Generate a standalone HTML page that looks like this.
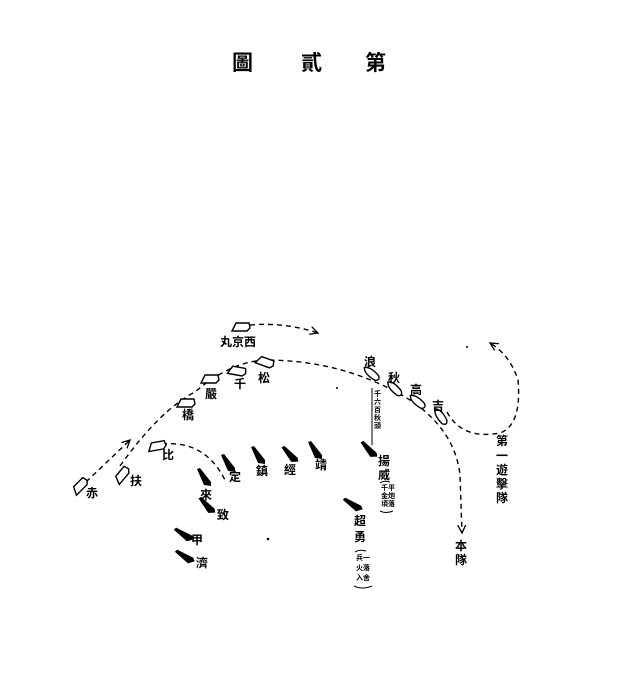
<!DOCTYPE html>
<html><head><meta charset="utf-8"><style>
html,body{margin:0;padding:0;background:#fff;}
svg{display:block;}
text{font-family:"Liberation Sans","Noto Sans CJK SC","Noto Sans CJK TC",sans-serif;font-weight:bold;fill:#000;}
</style></head><body>
<svg width="620" height="674" viewBox="0 0 620 674" xmlns="http://www.w3.org/2000/svg">
<defs>
<path id="w" d="M-9,4 L-5,-4 L8,-4 L9,1 L6,4 Z" fill="#fff" stroke="#000" stroke-width="1.4"/>
<path id="o" d="M-10,0 Q-6,-5 6,-3 Q11,0 6,3 Q-6,5 -10,0 Z" fill="#fff" stroke="#000" stroke-width="1.4"/>
<path id="b" d="M-7,-9 L-4,-10 L7,4 L7,8 L0,7 Z" fill="#000"/>
<marker id="ar" markerWidth="10" markerHeight="10" refX="8" refY="5" orient="auto" markerUnits="userSpaceOnUse"><path d="M0,1 L8,5 L0,9" fill="none" stroke="#000" stroke-width="1.3"/></marker>
</defs>
<text x="232" y="70" font-size="21">圖</text>
<text x="301" y="70" font-size="21">貳</text>
<text x="365" y="70" font-size="21">第</text>

<g fill="none" stroke="#000" stroke-width="1.4" stroke-dasharray="5,4">
<path d="M250,325 Q285,322 318,333" marker-end="url(#ar)"/>
<path d="M86,482 L130,440" marker-end="url(#ar)"/>
<path d="M120,466 Q160,410 195,392 Q230,362 265,360 Q345,360 410,400 Q455,430 460,475 L462,533" marker-end="url(#ar)"/>
<path d="M162,444 Q205,440 225,480"/>
<path d="M447,412 Q462,440 500,433 Q522,425 518,380 Q510,355 490,343" marker-end="url(#ar)"/>
</g>
<line x1="372" y1="388" x2="372" y2="445" stroke="#000" stroke-width="1"/>

<use href="#w" transform="translate(241,327)"/>
<use href="#w" transform="translate(265,362) rotate(20)"/>
<use href="#w" transform="translate(237,371) rotate(10)"/>
<use href="#w" transform="translate(210,379)"/>
<use href="#w" transform="translate(186,403)"/>
<use href="#w" transform="translate(157,446) rotate(-10)"/>
<use href="#w" transform="translate(122,475) rotate(-50)"/>
<use href="#w" transform="translate(80,486) rotate(-45)"/>
<use href="#o" transform="translate(372,374) rotate(40)"/>
<use href="#o" transform="translate(395,389) rotate(45)"/>
<use href="#o" transform="translate(418,402) rotate(40)"/>
<use href="#o" transform="translate(441,417) rotate(55)"/>

<use href="#b" transform="translate(228,464)"/>
<use href="#b" transform="translate(258,456)"/>
<use href="#b" transform="translate(290,455) rotate(-10)"/>
<use href="#b" transform="translate(315,451)"/>
<use href="#b" transform="translate(204,478)"/>
<use href="#b" transform="translate(207,506) rotate(-10)"/>
<use href="#b" transform="translate(184,535) rotate(-25)"/>
<use href="#b" transform="translate(185,557) rotate(-25)"/>
<use href="#b" transform="translate(369,450) rotate(-10)"/>
<use href="#b" transform="translate(353,505) rotate(-25)"/>

<g font-size="12">
<text x="220" y="346">丸京西</text>
<text x="258" y="382">松</text>
<text x="234" y="388">千</text>
<text x="205" y="398">嚴</text>
<text x="182" y="419">橋</text>
<text x="162" y="459">比</text>
<text x="130" y="485">扶</text>
<text x="86" y="497">赤</text>
<text x="229" y="481">定</text>
<text x="256" y="475">鎮</text>
<text x="284" y="474">經</text>
<text x="315" y="469">靖</text>
<text x="200" y="499">來</text>
<text x="217" y="519">致</text>
<text x="191" y="544">甲</text>
<text x="196" y="567">濟</text>
<text x="364" y="366">浪</text>
<text x="388" y="382">秋</text>
<text x="410" y="394">高</text>
<text x="432" y="410">吉</text>
<text x="378" y="465">揚</text>
<text x="378" y="479">威</text>
<text x="354" y="525">超</text>
<text x="354" y="541">勇</text>
<text x="455" y="550">本</text>
<text x="455" y="564">隊</text>
<text x="496" y="445">第</text>
<text x="496" y="460">一</text>
<text x="496" y="474">遊</text>
<text x="496" y="488">擊</text>
<text x="496" y="502">隊</text>
</g>
<g font-size="7">
<text x="374" y="396">千</text><text x="374" y="404">六</text><text x="374" y="412">百</text><text x="374" y="420">秋</text><text x="374" y="428">頭</text>
<text x="381" y="490">千平</text><text x="381" y="498">金炮</text><text x="381" y="506">頃落</text>
<text x="356" y="560">兵一</text><text x="356" y="570">火落</text><text x="356" y="580">入舍</text>
</g>
<g fill="none" stroke="#000" stroke-width="1">
<path d="M380,483 Q384,480 390,482"/><path d="M380,511 Q386,514 393,511"/>
<path d="M355,552 Q360,549 366,551"/><path d="M354,586 Q362,590 372,586"/>
</g>
<g fill="#000">
<circle cx="268" cy="539" r="1.3"/><circle cx="467" cy="347" r="1"/><circle cx="337" cy="388" r="1"/>
</g>
</svg>
</body></html>
